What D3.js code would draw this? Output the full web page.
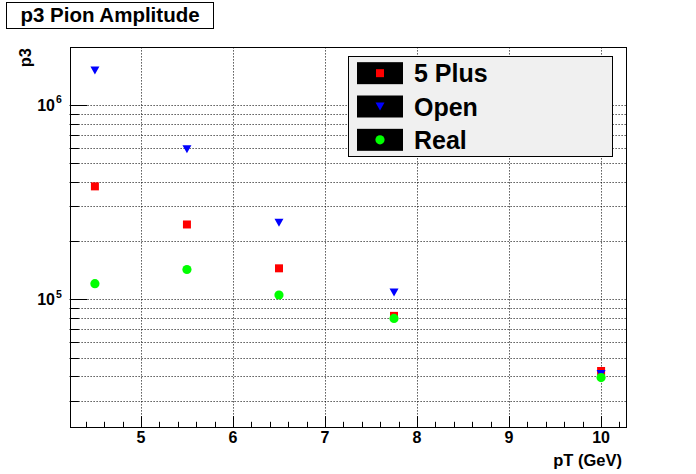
<!DOCTYPE html>
<html><head><meta charset="utf-8">
<script src="https://cdn.jsdelivr.net/npm/d3@7"></script>
<style>
body{margin:0;background:#fff}
svg{display:block}
text{font-family:"Liberation Sans",Arial,Helvetica,sans-serif;font-weight:bold;fill:#000}
</style>
</head><body>
<svg id="c" width="696" height="474"></svg>
<script>
// ---- data ----
const pT = [4.5, 5.5, 6.5, 7.75, 10];
const fivePlus = [3.80e5, 2.42e5, 1.44e5, 8.2e4, 4.27e4];
const openVals = [1.50e6, 5.9e5, 2.47e5, 1.08e5, 4.12e4];
const realVals = [1.20e5, 1.42e5, 1.05e5, 7.96e4, 3.95e4];
const seriesNames = ["5 Plus", "Open", "Real"];
const seriesColors = ["#ff0000", "#0000ff", "#00ff00"];
const seriesShapes = ["square", "triangleDown", "circle"];
const xTickValues = [5, 6, 7, 8, 9, 10];
const xDomain = [4.225, 10.275];
const yDomain = [2.21e4, 1.97e6];
const titleText = "p3 Pion Amplitude";
const xTitle = "pT (GeV)";
const yTitle = "p3";

const series = [fivePlus, openVals, realVals].map((vals, i) => ({
  name: seriesNames[i], color: seriesColors[i], shape: seriesShapes[i],
  points: pT.map((x, j) => ({x, y: vals[j]}))
}));

// ---- layout ----
const W = 696, H = 474;
const fx0 = 69.6, fx1 = 626.4, fy0 = 47.4, fy1 = 426.6;
const svg = d3.select("#c");
const x = d3.scaleLinear().domain(xDomain).range([fx0, fx1]);
const y = d3.scaleLog().domain(yDomain).range([fy1, fy0]);
const px = v => Math.round(v) + 0.5;

svg.append("rect").attr("width", W).attr("height", H).attr("fill", "#fff");

// y ticks (log): decades major, 2..9 minor
const yTicks = [];
for (let d = Math.floor(Math.log10(yDomain[0])); d <= Math.ceil(Math.log10(yDomain[1])); d++) {
  for (let m = 1; m <= 9; m++) {
    const v = m * Math.pow(10, d);
    if (v >= yDomain[0] && v <= yDomain[1]) yTicks.push({v, major: m === 1, d});
  }
}
// x minor ticks every 0.2
const xMinor = d3.range(Math.ceil(xDomain[0] * 5), Math.floor(xDomain[1] * 5) + 1)
  .map(k => k / 5).filter(v => Math.abs(v - Math.round(v)) > 1e-6);

// grid
const grid = svg.append("g").attr("stroke", "#000").attr("stroke-width", 1)
  .attr("stroke-dasharray", "1,2").attr("fill", "none");
grid.selectAll("line.gy").data(yTicks).join("line")
  .attr("x1", fx0).attr("x2", fx1)
  .attr("y1", d => px(y(d.v))).attr("y2", d => px(y(d.v)));
grid.selectAll("line.gx").data(xTickValues).join("line")
  .attr("x1", d => px(x(d))).attr("x2", d => px(x(d)))
  .attr("y1", fy0).attr("y2", fy1);

// frame
svg.append("rect").attr("x", px(fx0)).attr("y", px(fy0))
  .attr("width", Math.round(fx1) - Math.round(fx0)).attr("height", Math.round(fy1) - Math.round(fy0))
  .attr("fill", "none").attr("stroke", "#000").attr("stroke-width", 1);

// axis ticks
const yTickLenMajor = 0.03 * (fx1 - fx0), xTickLenMajor = 0.03 * (fy1 - fy0);
const ticks = svg.append("g").attr("stroke", "#000").attr("stroke-width", 1);
ticks.selectAll("line.ty").data(yTicks).join("line")
  .attr("x1", px(fx0)).attr("x2", d => px(fx0) + (d.major ? yTickLenMajor : yTickLenMajor / 2))
  .attr("y1", d => px(y(d.v))).attr("y2", d => px(y(d.v)));
ticks.selectAll("line.tx").data(xTickValues).join("line")
  .attr("x1", d => px(x(d))).attr("x2", d => px(x(d)))
  .attr("y1", px(fy1)).attr("y2", px(fy1) - xTickLenMajor);
ticks.selectAll("line.txm").data(xMinor).join("line")
  .attr("x1", d => px(x(d))).attr("x2", d => px(x(d)))
  .attr("y1", px(fy1)).attr("y2", px(fy1) - xTickLenMajor / 2);

// x tick labels
svg.append("g").selectAll("text").data(xTickValues).join("text")
  .attr("x", d => x(d)).attr("y", 443).attr("text-anchor", "middle")
  .attr("font-size", 16).text(d => d);

// y tick labels 10^d
const yl = svg.append("g").selectAll("g").data(yTicks.filter(t => t.major)).join("g");
yl.append("text").attr("x", 55).attr("y", d => y(d.v) + 6).attr("text-anchor", "end")
  .attr("font-size", 16).text("10");
yl.append("text").attr("x", 56).attr("y", d => y(d.v) - 1.5).attr("text-anchor", "start")
  .attr("font-size", 10.5).text(d => d.d);

// axis titles
svg.append("text").attr("x", 622).attr("y", 466).attr("text-anchor", "end")
  .attr("font-size", 16.5).text(xTitle);
svg.append("text").attr("transform", "translate(31,48) rotate(-90)").attr("text-anchor", "end")
  .attr("font-size", 16.5).text(yTitle);

// markers
function markerPath(shape) {
  const p = d3.path();
  if (shape === "square") { p.rect(-4, -4, 8, 8); }
  else if (shape === "triangleDown") { p.moveTo(-4.5, -4); p.lineTo(4.5, -4); p.lineTo(0, 4); p.closePath(); }
  else { p.arc(0, 0, 4.6, 0, 2 * Math.PI); p.closePath(); }
  return p.toString();
}
series.forEach(s => {
  svg.append("g").selectAll("path").data(s.points).join("path")
    .attr("d", markerPath(s.shape))
    .attr("transform", d => `translate(${x(d.x)},${y(d.y)})`)
    .attr("fill", s.color);
});

// legend
const lg = svg.append("g");
const lx0 = 348.5, ly0 = 56.5, lw = 264, lh = 100;
lg.append("rect").attr("x", lx0).attr("y", ly0).attr("width", lw).attr("height", lh)
  .attr("fill", "#f0f0f0").attr("stroke", "#000").attr("stroke-width", 1);
const rowH = lh / series.length;
const le = lg.selectAll("g").data(series).join("g")
  .attr("transform", (d, i) => `translate(0,${ly0 + rowH * (i + 0.5)})`);
le.append("rect").attr("x", 357).attr("y", -11).attr("width", 46).attr("height", 22).attr("fill", "#000");
le.append("path").attr("d", d => markerPath(d.shape)).attr("transform", "translate(380,0)")
  .attr("fill", d => d.color);
le.append("text").attr("x", 414).attr("y", 9).attr("font-size", 25).text(d => d.name);

// title box
svg.append("rect").attr("x", 6.5).attr("y", 2.5).attr("width", 207).attr("height", 26)
  .attr("fill", "#fff").attr("stroke", "#000").attr("stroke-width", 1);
svg.append("text").attr("x", 110).attr("y", 22).attr("text-anchor", "middle")
  .attr("font-size", 20.5).text(titleText);
</script>
</body></html>
